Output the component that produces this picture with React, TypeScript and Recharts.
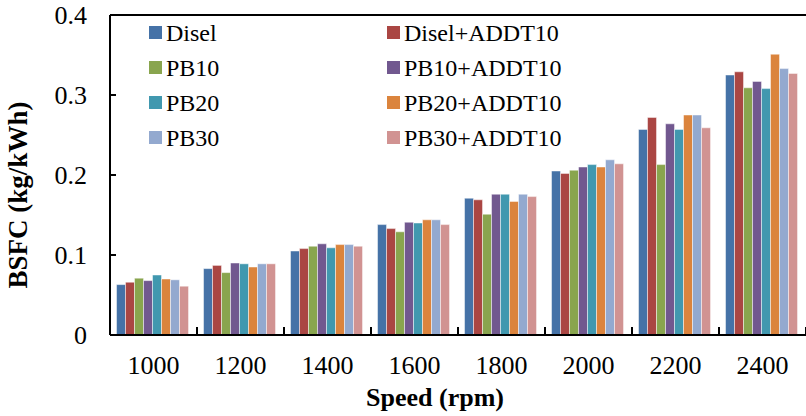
import { BarChart, Bar, XAxis, YAxis, ReferenceLine } from "recharts"

const speeds = ["1000", "1200", "1400", "1600", "1800", "2000", "2200", "2400"]

const disel = [0.063, 0.083, 0.105, 0.138, 0.171, 0.205, 0.257, 0.325]
const diselAddt = [0.066, 0.087, 0.108, 0.133, 0.169, 0.202, 0.272, 0.329]
const pb10 = [0.071, 0.078, 0.111, 0.129, 0.151, 0.206, 0.213, 0.309]
const pb10Addt = [0.068, 0.09, 0.114, 0.141, 0.176, 0.21, 0.264, 0.317]
const pb20 = [0.075, 0.089, 0.109, 0.14, 0.176, 0.213, 0.257, 0.308]
const pb20Addt = [0.07, 0.085, 0.113, 0.144, 0.167, 0.21, 0.275, 0.351]
const pb30 = [0.069, 0.089, 0.113, 0.144, 0.176, 0.219, 0.275, 0.333]
const pb30Addt = [0.061, 0.089, 0.111, 0.138, 0.173, 0.214, 0.259, 0.327]

const yTicks = [0, 0.1, 0.2, 0.3, 0.4]

const series = [
  { name: "Disel", values: disel, color: "#4572A7" },
  { name: "Disel+ADDT10", values: diselAddt, color: "#AA4643" },
  { name: "PB10", values: pb10, color: "#89A54E" },
  { name: "PB10+ADDT10", values: pb10Addt, color: "#71588F" },
  { name: "PB20", values: pb20, color: "#4198AF" },
  { name: "PB20+ADDT10", values: pb20Addt, color: "#DB843D" },
  { name: "PB30", values: pb30, color: "#93A9CF" },
  { name: "PB30+ADDT10", values: pb30Addt, color: "#D19392" },
]

const FONT = "'Liberation Serif', 'Times New Roman', serif"
const W = 806
const H = 416
const LEFT = 110
const BAND = (W - LEFT) / speeds.length

const data = speeds.map((s, i) => {
  const row: Record<string, string | number> = { speed: s }
  series.forEach((ser) => {
    row[ser.name] = ser.values[i]
  })
  return row
})

function XTick(props: any) {
  const { x, y, payload, index } = props
  const left = x - BAND / 2
  return (
    <g>
      <line x1={left} y1={y} x2={left} y2={y - 8} stroke="#000" strokeWidth={2} />
      {index === speeds.length - 1 && (
        <line x1={left + BAND} y1={y} x2={left + BAND} y2={y - 8} stroke="#000" strokeWidth={2} />
      )}
      <text x={x} y={y + 30} dy="0.36em" textAnchor="middle" fontSize={26} fontFamily={FONT} fill="#000">
        {payload.value}
      </text>
    </g>
  )
}

function YTick(props: any) {
  const { y, payload } = props
  return (
    <g>
      <line x1={LEFT} y1={y} x2={LEFT + 6} y2={y} stroke="#000" strokeWidth={2} />
      <text x={LEFT - 23} y={y} dy="0.36em" textAnchor="end" fontSize={26} fontFamily={FONT} fill="#000">
        {payload.value === 0 ? "0" : String(payload.value)}
      </text>
    </g>
  )
}

function LegendBox() {
  return (
    <div
      style={{
        position: "absolute",
        left: 149,
        top: 15,
        display: "grid",
        gridTemplateColumns: "238px 238px",
        gridAutoRows: "35px",
        fontFamily: FONT,
        fontSize: 24,
        color: "#000",
        pointerEvents: "none",
      }}
    >
      {series.map((s) => (
        <div key={s.name} style={{ display: "flex", alignItems: "center", whiteSpace: "nowrap" }}>
          <span style={{ width: 13, height: 13, background: s.color, marginRight: 4, flex: "none" }} />
          <span style={{ lineHeight: "24px" }}>{s.name}</span>
        </div>
      ))}
    </div>
  )
}

export default function App() {
  return (
    <div style={{ position: "absolute", left: 0, top: 0, width: W, height: H, background: "#fff" }}>
      <BarChart
        width={W}
        height={H}
        data={data}
        margin={{ top: 15, right: 0, left: 0, bottom: 0 }}
        barCategoryGap="7.5%"
        barGap={0}
      >
        <XAxis
          dataKey="speed"
          height={81}
          tickLine={false}
          tickSize={0}
          tickMargin={0}
          axisLine={{ stroke: "#000", strokeWidth: 2 }}
          tick={<XTick />}
          interval={0}
          label={{
            value: "Speed (rpm)",
            position: "insideBottom",
            offset: 10,
            dx: -23,
            style: { fontFamily: FONT, fontSize: 26, fontWeight: 700, fill: "#000" },
          }}
        />
        <YAxis
          width={LEFT}
          domain={[0, 0.4]}
          ticks={yTicks}
          tickLine={false}
          tickSize={0}
          axisLine={{ stroke: "#000", strokeWidth: 2 }}
          tick={<YTick />}
          label={{
            value: "BSFC (kg/kWh)",
            angle: -90,
            position: "insideLeft",
            dx: 12,
            dy: 20,
            style: { fontFamily: FONT, fontSize: 27, fontWeight: 700, fill: "#000", textAnchor: "middle" },
          }}
        />
        <ReferenceLine y={0.4} stroke="#000" strokeWidth={2} />
        {series.map((s) => (
          <Bar
            key={s.name}
            dataKey={s.name}
            fill={s.color}
            stroke="rgba(255,255,255,0.6)"
            strokeWidth={0.8}
            isAnimationActive={false}
          />
        ))}
      </BarChart>
      <LegendBox />
    </div>
  )
}
